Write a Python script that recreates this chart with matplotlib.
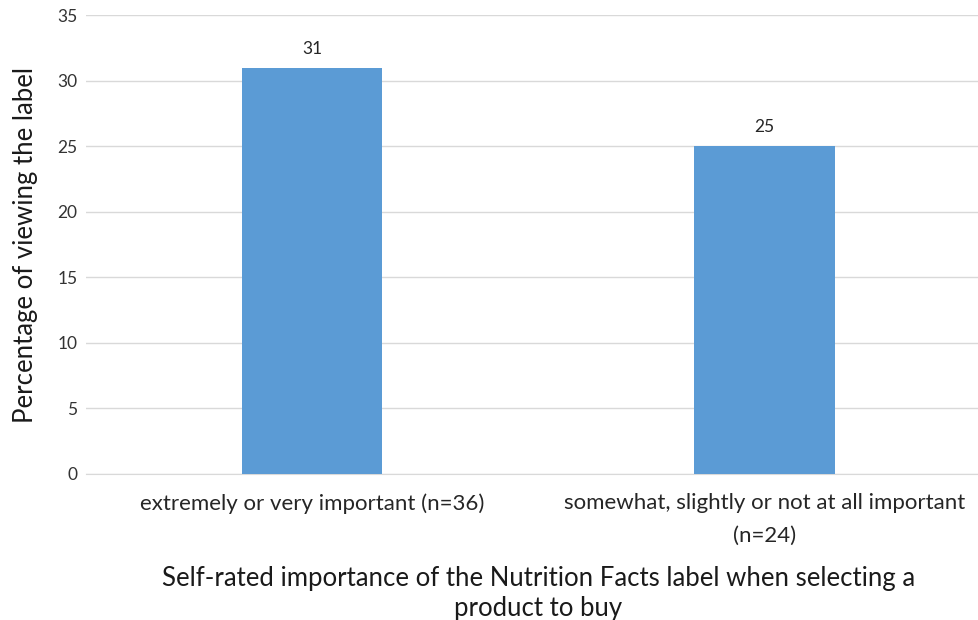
import matplotlib.pyplot as plt
import numpy as np

plt.rcParams['font.family'] = ['Lato', 'DejaVu Sans']

# Share of participants who viewed the label, by self-rated importance
categories = ['extremely or very important (n=36)',
              'somewhat, slightly or not at all important\n(n=24)']
percent_viewing = [31, 25]
y_ticks = [0, 5, 10, 15, 20, 25, 30, 35]

fig = plt.figure(figsize=(9.79, 6.2), dpi=100)
ax = fig.add_axes([0.0878, 0.2355, 0.924, 0.740])

x = np.arange(len(categories))
bars = ax.bar(x, percent_viewing, width=0.31, color='#5B9BD5', zorder=3)

# value labels above each bar
for b, v in zip(bars, percent_viewing):
    ax.annotate(str(v), (b.get_x() + b.get_width() / 2, v),
                xytext=(0, 8), textcoords='offset points',
                ha='center', va='bottom', fontsize=12.5, color='#262626')

ax.set_xlim(-0.5, 1.5)
ax.set_ylim(0, 35)
ax.set_yticks(y_ticks)
ax.set_xticks(x)
ax.set_xticklabels(categories, fontsize=16, color='#262626', linespacing=1.75)
ax.tick_params(axis='y', labelsize=12.5, labelcolor='#333333', length=0, pad=6)
ax.tick_params(axis='x', length=0, pad=14)

ax.grid(axis='y', color='#D9D9D9', linewidth=1, zorder=0)
for s in ['top', 'right', 'left']:
    ax.spines[s].set_visible(False)
ax.spines['bottom'].set_color('#D9D9D9')

ax.set_ylabel('Percentage of viewing the label', fontsize=18.5, color='#1a1a1a', labelpad=14)
ax.set_xlabel('Self-rated importance of the Nutrition Facts label when selecting a\nproduct to buy',
              fontsize=18.5, color='#1a1a1a', labelpad=15, linespacing=1.25)

fig.savefig('out.png', dpi=100)
